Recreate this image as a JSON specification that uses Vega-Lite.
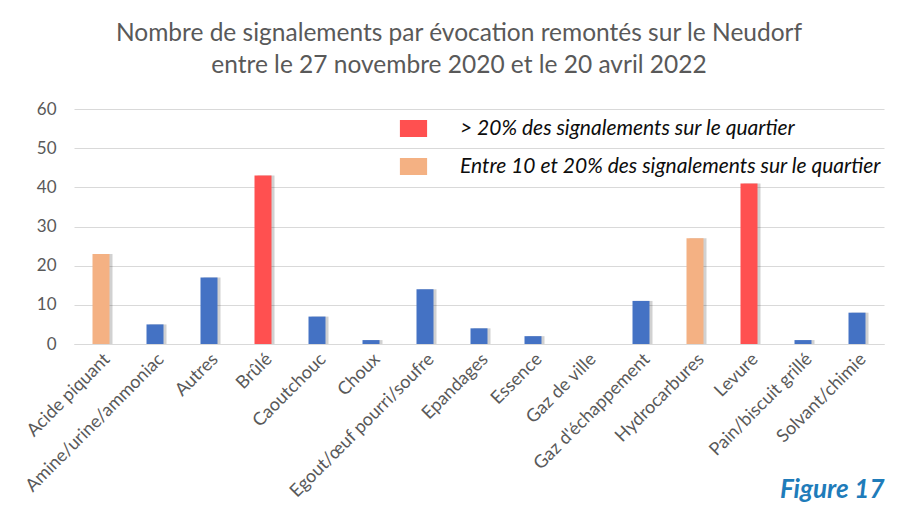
{
  "$schema": "https://vega.github.io/schema/vega-lite/v6.json",
  "width": 810,
  "height": 235,
  "padding": {"left": 22, "top": 20, "right": 10, "bottom": 5},
  "background": "white",
  "title": {
    "text": ["Nombre de signalements par évocation remontés sur le Neudorf", "entre le 27 novembre 2020 et le 20 avril 2022"],
    "fontSize": 24.5,
    "font": "Lato",
    "fontWeight": "normal",
    "color": "#595959",
    "lineHeight": 32,
    "offset": 22,
    "anchor": "middle",
    "dx": -20
  },
  "data": {
    "values": [
      {"evocation": "Acide piquant", "signalements": 23, "niveau": "Entre 10 et 20% des signalements sur le quartier"},
      {"evocation": "Amine/urine/ammoniac", "signalements": 5, "niveau": "Autre"},
      {"evocation": "Autres", "signalements": 17, "niveau": "Autre"},
      {"evocation": "Brûlé", "signalements": 43, "niveau": "> 20% des signalements sur le quartier"},
      {"evocation": "Caoutchouc", "signalements": 7, "niveau": "Autre"},
      {"evocation": "Choux", "signalements": 1, "niveau": "Autre"},
      {"evocation": "Egout/œuf pourri/soufre", "signalements": 14, "niveau": "Autre"},
      {"evocation": "Epandages", "signalements": 4, "niveau": "Autre"},
      {"evocation": "Essence", "signalements": 2, "niveau": "Autre"},
      {"evocation": "Gaz de ville", "signalements": 0, "niveau": "Autre"},
      {"evocation": "Gaz d'échappement", "signalements": 11, "niveau": "Autre"},
      {"evocation": "Hydrocarbures", "signalements": 27, "niveau": "Entre 10 et 20% des signalements sur le quartier"},
      {"evocation": "Levure", "signalements": 41, "niveau": "> 20% des signalements sur le quartier"},
      {"evocation": "Pain/biscuit grillé", "signalements": 1, "niveau": "Autre"},
      {"evocation": "Solvant/chimie", "signalements": 8, "niveau": "Autre"}
    ]
  },
  "encoding": {
    "x": {
      "field": "evocation",
      "type": "nominal",
      "sort": null,
      "title": "Figure 17",
      "axis": {
        "labelAngle": -45,
        "labelFontSize": 18,
        "labelFont": "Lato",
        "labelColor": "#595959",
        "labelPadding": 6,
        "labelLimit": 400,
        "domainColor": "#D9D9D9",
        "ticks": false,
        "titleFont": "Lato",
        "titleFontStyle": "italic",
        "titleFontWeight": "bold",
        "titleColor": "#1F7CBA",
        "titleFontSize": 26,
        "titleAnchor": "end",
        "titlePadding": -24
      }
    },
    "y": {
      "field": "signalements",
      "type": "quantitative",
      "title": null,
      "scale": {"domain": [0, 60]},
      "axis": {
        "values": [0, 10, 20, 30, 40, 50, 60],
        "gridColor": "#D9D9D9",
        "domain": false,
        "ticks": false,
        "labelFontSize": 17,
        "labelFont": "Lato",
        "labelColor": "#595959",
        "labelPadding": 18
      }
    }
  },
  "layer": [
    {
      "mark": {"type": "bar", "color": "#000000", "opacity": 0.18, "xOffset": 3, "width": 17}
    },
    {
      "mark": {"type": "bar", "width": 17},
      "encoding": {
        "color": {
          "field": "niveau",
          "type": "nominal",
          "scale": {
            "domain": ["> 20% des signalements sur le quartier", "Entre 10 et 20% des signalements sur le quartier", "Autre"],
            "range": ["#FF5050", "#F4B183", "#4472C4"]
          },
          "legend": {
            "values": ["> 20% des signalements sur le quartier", "Entre 10 et 20% des signalements sur le quartier"],
            "title": null,
            "orient": "none",
            "legendX": 329,
            "legendY": 9,
            "symbolType": "M-1.6,-1L1.6,-1L1.6,1L-1.6,1Z",
            "symbolSize": 289,
            "symbolOpacity": 1,
            "symbolStrokeWidth": 0,
            "labelFont": "Lato",
            "labelFontStyle": "italic",
            "labelFontSize": 21,
            "labelColor": "#0D0D0D",
            "labelOffset": 36,
            "labelLimit": 600,
            "rowPadding": 16
          }
        }
      }
    }
  ],
  "config": {
    "view": {"stroke": null}
  }
}
